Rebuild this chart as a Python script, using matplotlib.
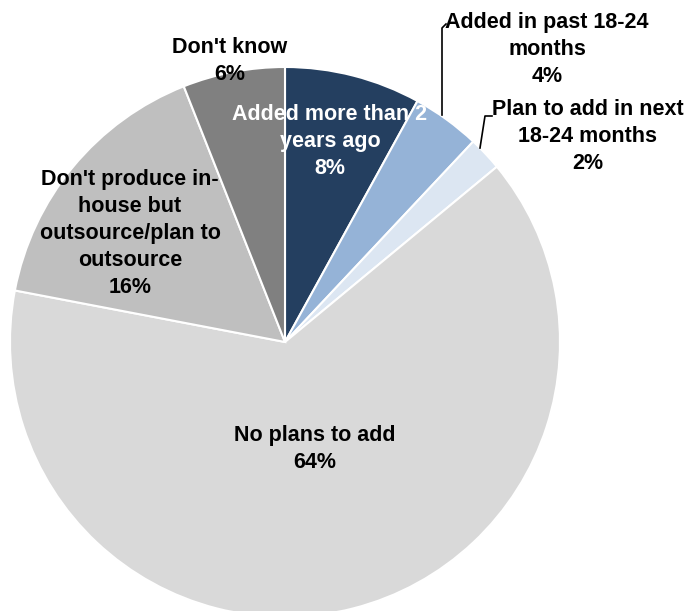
import matplotlib
matplotlib.use("Agg")
import matplotlib.pyplot as plt

# share of respondents by status
categories = [
    "Added more than 2\nyears ago",
    "Added in past 18-24\nmonths",
    "Plan to add in next\n18-24 months",
    "No plans to add",
    "Don't produce in-\nhouse but\noutsource/plan to\noutsource",
    "Don't know",
]
shares = [8, 4, 2, 64, 16, 6]
colors = ["#243f60", "#95b3d7", "#dce6f2", "#d9d9d9", "#bfbfbf", "#808080"]
text_colors = ["white", "black", "black", "black", "black", "black"]

W, H = 689, 611
CX, CY, R = 285, 342, 275   # pie centre and radius in pixels

plt.rcParams["font.family"] = ["Liberation Sans", "DejaVu Sans"]

fig = plt.figure(figsize=(W / 100, H / 100), dpi=100)
ax = fig.add_axes([0, 0, 1, 1])
ax.pie(shares, colors=colors, startangle=90, counterclock=False, radius=1,
       wedgeprops=dict(edgecolor="white", linewidth=1.5))
ax.set_aspect("auto")
ax.set_xlim(-CX / R, (W - CX) / R)
ax.set_ylim(-(H - CY) / R, CY / R)
ax.axis("off")


def px(x, y):
    return x / W, 1 - y / H


# label anchor (centre of first text line) for each slice, in pixels
label_pos = [(330, 112), (547, 20), (588, 107), (315, 433), (130, 177), (230, 45)]

for name, val, (x, y), tc in zip(categories, shares, label_pos, text_colors):
    fx, fy = px(x, y - 8)
    fig.text(fx, fy, f"{name}\n{val}%", ha="center", va="top", color=tc,
             fontsize=15.5, fontweight="bold", linespacing=1.37)

# leader lines for the two thin slices
lx, ly = zip(*[px(446, 24), px(442, 28), px(442, 115)])
fig.add_artist(plt.Line2D(lx, ly, color="black", lw=1.2))
lx, ly = zip(*[px(480, 148), px(485, 116), px(492, 116)])
fig.add_artist(plt.Line2D(lx, ly, color="black", lw=1.2))

fig.savefig("out.png", dpi=100)
